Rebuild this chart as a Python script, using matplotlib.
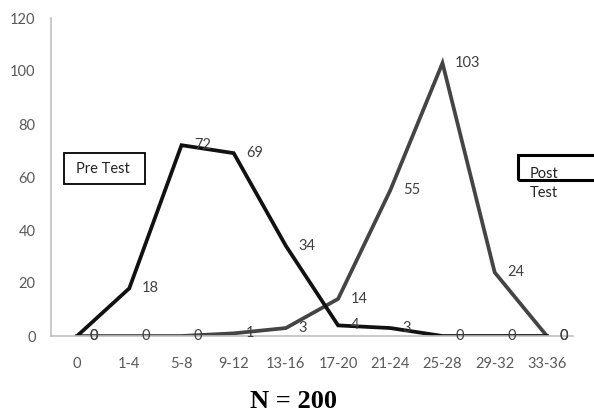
import matplotlib
matplotlib.use("Agg")
import matplotlib.pyplot as plt
from matplotlib.patches import Rectangle

# score ranges and counts (N = 200)
Ranges = ["0", "1-4", "5-8", "9-12", "13-16", "17-20", "21-24", "25-28", "29-32", "33-36"]
PreTest = [0, 18, 72, 69, 34, 4, 3, 0, 0, 0]
PostTest = [0, 0, 0, 1, 3, 14, 55, 103, 24, 0]

W, H = 594, 413
fig = plt.figure(figsize=(W / 100, H / 100), dpi=100)
ax = fig.add_axes([51 / W, 1 - 336 / H, (573 - 51) / W, (336 - 18) / H])

X = list(range(len(Ranges)))
ax.plot(X, PostTest, color="#444444", lw=2.7, solid_joinstyle="miter")
ax.plot(X, PreTest, color="#111111", lw=2.7, solid_joinstyle="miter")

lab = dict(fontsize=10.5, family="Lato", color="#404040", va="center", ha="left",
           textcoords="offset points")
for i in X:
    ax.annotate(str(PostTest[i]), (i, PostTest[i]), xytext=(9, 0), **lab)
    ax.annotate(str(PreTest[i]), (i, PreTest[i]), xytext=(9, 0), **lab)

ax.set_xlim(-0.5, len(Ranges) - 0.5)
ax.set_ylim(0, 120)
ax.set_yticks(range(0, 121, 20))
ax.set_xticks(X)
ax.set_xticklabels(Ranges)
for t in ax.get_xticklabels() + ax.get_yticklabels():
    t.set_family("Lato")
    t.set_fontsize(10.5)
    t.set_color("#595959")
ax.tick_params(axis="both", length=0)
ax.tick_params(axis="x", pad=15)
ax.tick_params(axis="y", pad=11)
for s in ["top", "right"]:
    ax.spines[s].set_visible(False)
for s in ["left", "bottom"]:
    ax.spines[s].set_color("#c0c0c0")
    ax.spines[s].set_linewidth(1.2)

# legend-like text boxes
fig.patches.append(Rectangle((64 / W, 1 - 184 / H), 81 / W, 31 / H, transform=fig.transFigure,
                             fill=False, edgecolor="black", lw=1.3))
fig.text(76 / W, 1 - 169 / H, "Pre Test", family="Lato", fontsize=10.5, color="#222222", va="center")
fig.patches.append(Rectangle((518 / W, 1 - 180 / H), 100 / W, 25 / H, transform=fig.transFigure,
                             fill=False, edgecolor="black", lw=2.2))
fig.text(530 / W, 1 - 174 / H, "Post", family="Lato", fontsize=10.5, color="#222222", va="center")
fig.text(530 / W, 1 - 193 / H, "Test", family="Lato", fontsize=10.5, color="#222222", va="center")

fig.text(293 / W, 1 - 401 / H, "N = 200", family="Liberation Serif", weight="bold",
         fontsize=19, ha="center", va="center")

fig.savefig("out.png", dpi=100)
